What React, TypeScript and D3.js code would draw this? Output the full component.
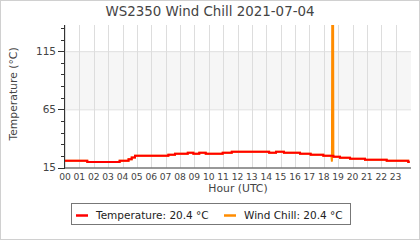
import React from "react";
import * as d3 from "d3";

const W = 420;
const H = 240;

const title = "WS2350 Wind Chill 2021-07-04";
const yLabel = "Temperature (°C)";
const xLabel = "Hour (UTC)";

const hourLabels = ["00","01","02","03","04","05","06","07","08","09","10","11","12","13","14","15","16","17","18","19","20","21","22","23"];
const yMajorTicks = [15, 65, 115];
const yMinorTicks = [25, 35, 45, 55, 75, 85, 95, 105, 125, 135];
const band = [65, 115];

// temperature: hour of each change, value from then on
const tempHours = [0, 1.55, 3.8, 4.42, 4.64, 4.87, 7.19, 7.65, 8.54, 8.93, 9.34, 9.79, 10.97, 11.6, 14.2, 14.68, 15.23, 16.35, 17.09, 17.97, 18.67, 19.13, 19.83, 20.87, 22.38, 23.88];
const tempValues = [20.8, 19.7, 20.8, 22.0, 23.6, 25.1, 26.0, 26.9, 27.7, 26.9, 27.7, 26.9, 27.7, 28.6, 27.6, 28.6, 27.7, 26.9, 26.0, 25.1, 24.3, 23.4, 22.6, 21.7, 20.8, 19.8];
const endHour = 23.98;

// wind chill spike (otherwise equal to temperature)
const spikeHours = [18.53, 18.57, 18.62, 18.67];
const spikeValues = [25.1, 20.0, 350, 24.3];

const legendItems = [
  { label: "Temperature: 20.4 °C", color: "#ff0000" },
  { label: "Wind Chill: 20.4 °C", color: "#ff8c00" },
];

const font = "DejaVu Sans, sans-serif";

function stepPoints(hours: number[], values: number[], end: number): [number, number][] {
  const pts: [number, number][] = [];
  for (let i = 0; i < hours.length; i++) {
    if (i > 0) pts.push([hours[i], values[i - 1]]);
    pts.push([hours[i], values[i]]);
  }
  pts.push([end, values[values.length - 1]]);
  return pts;
}

export default function App() {
  const left = 65, right = 411, top = 25, bottom = 167.5;
  const x = d3.scaleLinear().domain([0, 24]).range([left, 410]);
  const y = d3.scaleLinear().domain([15, 137.5]).range([bottom, top]);

  const tempPts = stepPoints(tempHours, tempValues, endHour);
  const windPts: [number, number][] = [
    ...tempPts.filter((p) => p[0] < spikeHours[0]),
    ...spikeHours.map((h, i) => [h, spikeValues[i]] as [number, number]),
    ...tempPts.filter((p) => p[0] > spikeHours[spikeHours.length - 1] || (p[0] === spikeHours[spikeHours.length - 1] && p[1] === spikeValues[spikeValues.length - 1])),
  ];

  const line = d3
    .line<[number, number]>()
    .x((d) => x(d[0]))
    .y((d) => y(d[1]));

  const hours = d3.range(0, 24);

  return (
    <svg width={W} height={H} style={{ position: "fixed", left: 0, top: 0, background: "#fff" }} fontFamily={font}>
      <rect x={0.5} y={0.5} width={W - 1} height={H - 1} fill="#fff" stroke="#d0d0d0" />
      <defs>
        <clipPath id="plot">
          <rect x={left} y={top} width={right - left} height={bottom - top} />
        </clipPath>
      </defs>
      <text x={W / 2} y={15.5} textAnchor="middle" fontSize={13.4} fill="#444">{title}</text>

      {/* band */}
      <rect x={left} y={y(band[1])} width={right - left} height={y(band[0]) - y(band[1])} fill="#f6f6f6" />
      <line x1={left} x2={right} y1={y(band[1]) + 0.5} y2={y(band[1]) + 0.5} stroke="#e0e0e0" />
      <line x1={left} x2={right} y1={y(band[0]) + 0.5} y2={y(band[0]) + 0.5} stroke="#e0e0e0" />

      {/* vertical grid */}
      {hours.map((h) => (
        <line key={h} x1={Math.round(x(h)) + 0.5} x2={Math.round(x(h)) + 0.5} y1={top} y2={bottom} stroke="#dddddd" />
      ))}

      {/* lines */}
      <g clipPath="url(#plot)">
        <path d={line(windPts) || ""} fill="none" stroke="#ff8c00" strokeWidth={2} />
        <path d={line(tempPts) || ""} fill="none" stroke="#ff0000" strokeWidth={2} />
      </g>

      {/* axes */}
      <line x1={left - 0.5} x2={left - 0.5} y1={top} y2={bottom + 0.5} stroke="#333" />
      <line x1={left - 0.5} x2={right} y1={bottom + 0.5} y2={bottom + 0.5} stroke="#333" />
      {yMajorTicks.map((t) => (
        <g key={t}>
          <line x1={left - 7} x2={left} y1={Math.round(y(t)) + 0.5} y2={Math.round(y(t)) + 0.5} stroke="#333" />
          <text x={left - 9} y={y(t)} dy="0.36em" textAnchor="end" fontSize={10.5} fill="#444">{t}</text>
        </g>
      ))}
      {yMinorTicks.map((t) => (
        <line key={t} x1={left - 4} x2={left} y1={Math.round(y(t)) + 0.5} y2={Math.round(y(t)) + 0.5} stroke="#333" />
      ))}
      {hourLabels.map((l, i) => (
        <text key={l} x={x(i)} y={179.5} textAnchor="middle" fontSize={9.2} fill="#444">{l}</text>
      ))}
      <text x={(left + right) / 2} y={192} textAnchor="middle" fontSize={10.8} fill="#444">{xLabel}</text>
      <text transform={`translate(17, 94) rotate(-90)`} textAnchor="middle" fontSize={10.8} fill="#444">{yLabel}</text>

      {/* legend */}
      <rect x={71.5} y={203.5} width={279} height={21} fill="#fff" stroke="#777" />
      {legendItems.map((it, i) => {
        const lx = i === 0 ? 76 : 224;
        return (
          <g key={it.label}>
            <line x1={lx} x2={lx + 12} y1={215.5} y2={215.5} stroke={it.color} strokeWidth={2.5} />
            <text x={lx + 20} y={218.5} fontSize={10.5} fill="#222">{it.label}</text>
          </g>
        );
      })}
    </svg>
  );
}
